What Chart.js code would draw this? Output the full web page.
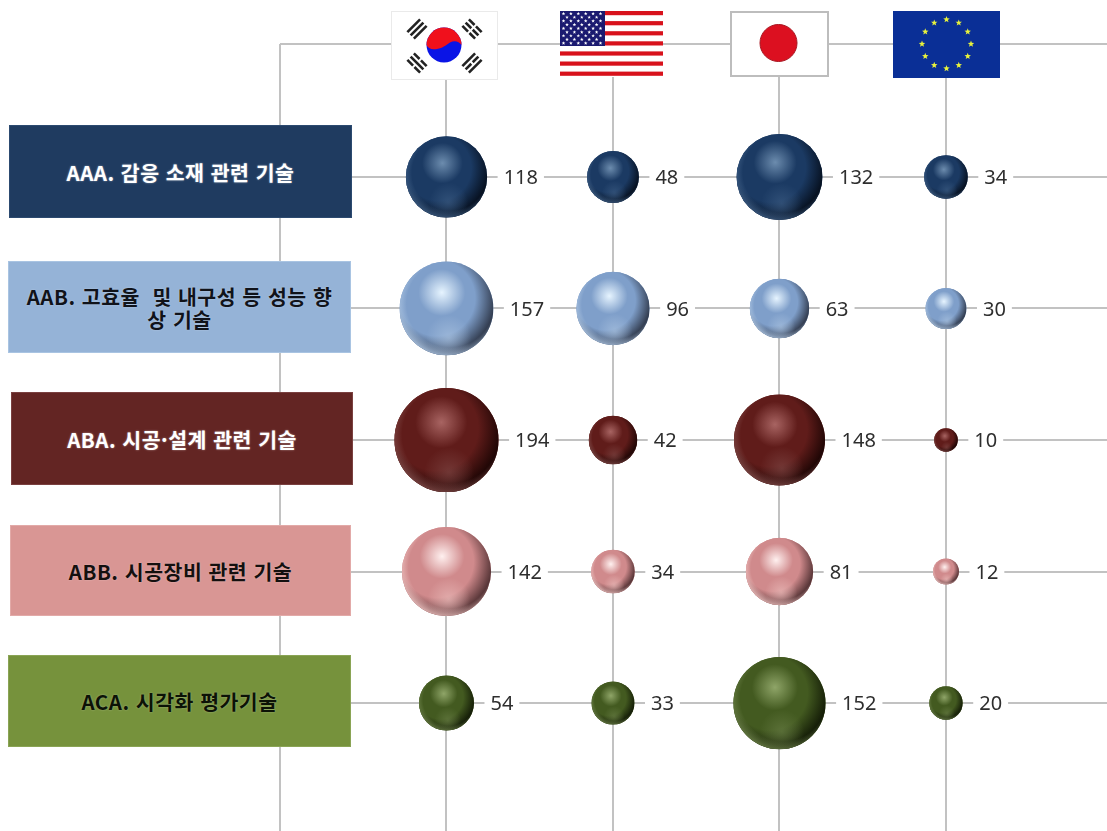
<!DOCTYPE html>
<html lang="ko">
<head>
<meta charset="utf-8">
<title>기술 분야별 국가 비교</title>
<script src="https://cdn.jsdelivr.net/npm/chart.js@4/dist/chart.umd.js"></script>
<style>
  html, body { margin: 0; padding: 0; background: #fff; overflow: hidden; }
  #stage { position: relative; width: 1107px; height: 831px; }
  #chart { position: absolute; left: 0; top: 0; }
  .box {
    position: absolute; display: flex; align-items: center; justify-content: center;
    box-sizing: border-box; text-align: center; white-space: pre;
    font: bold 20.5px/23px "Noto Sans CJK KR", sans-serif; letter-spacing: 0.5px;
    padding-top: 1px;
  }
  .flag { position: absolute; filter: blur(0.6px); }
</style>
</head>
<body>
<div id="stage">
  <canvas id="chart" width="1107" height="831"></canvas>
</div>
<script>
const categories = [
  'AAA. 감응 소재 관련 기술',
  'AAB. 고효율  및 내구성 등 성능 향\n상 기술',
  'ABA. 시공·설계 관련 기술',
  'ABB. 시공장비 관련 기술',
  'ACA. 시각화 평가기술'
];
const countries = ['KR', 'US', 'JP', 'EU'];

const aaaValues = [118, 48, 132, 34];
const aabValues = [157, 96, 63, 30];
const abaValues = [194, 42, 148, 10];
const abbValues = [142, 34, 81, 12];
const acaValues = [54, 33, 152, 20];
const seriesValues = [aaaValues, aabValues, abaValues, abbValues, acaValues];

// bubble area follows the value
const RADIUS_PER_ROOT = 3.74;
const LABEL_GAP = 16.5;

const GRID_COLOR = '#c2c2c2';

// left, top, width, height, fill, text, border
const boxStyles = [
  [9, 125, 343, 93, '#1f3b60', '#ffffff', '#2c4a70'],
  [8, 261, 343, 92, '#95b3d7', '#10131a', '#a9c4e2'],
  [11, 392, 342, 93, '#632523', '#ffffff', '#7a4040'],
  [10, 525, 341, 91, '#d99694', '#14100f', '#e2aaa8'],
  [8, 655, 343, 92, '#76923c', '#0c1206', '#8aa455']
];

// dark side, body, highlight, lower glow
const spherePalettes = [
  { rim: '#050d1a', body: '#1b3a63', hi: '#6c8cae', low: '#3f5f86' },
  { rim: '#2b3344', body: '#7f9fca', hi: '#e6f4ff', low: '#aec6e2' },
  { rim: '#190403', body: '#601c1a', hi: '#a86462', low: '#804a48' },
  { rim: '#4a2c2e', body: '#d08a8c', hi: '#fff0ef', low: '#eec2c0' },
  { rim: '#101705', body: '#435a20', hi: '#8fa568', low: '#6b8048' }
];

const sphereShading = {
  id: 'sphereShading',
  afterDatasetsDraw(chart) {
    const c = chart.ctx;
    chart.data.datasets.forEach((ds, i) => {
      const pal = spherePalettes[i];
      chart.getDatasetMeta(i).data.forEach(pt => {
        const r = pt.options.radius;
        const x = pt.x, y = pt.y;
        c.save();
        c.beginPath();
        c.arc(x, y, r, 0, Math.PI * 2);
        c.clip();

        // body falls off toward the lower right
        let g = c.createRadialGradient(x - r * 0.2, y - r * 0.22, r * 0.1, x - r * 0.2, y - r * 0.22, r * 1.28);
        g.addColorStop(0, pal.body);
        g.addColorStop(0.6, pal.body);
        g.addColorStop(1, pal.rim);
        c.fillStyle = g;
        c.fillRect(x - r, y - r, r * 2, r * 2);

        // soft spot at the top
        g = c.createRadialGradient(x - r * 0.1, y - r * 0.34, 0, x - r * 0.1, y - r * 0.34, r * 0.5);
        g.addColorStop(0, pal.hi);
        g.addColorStop(1, pal.hi + '00');
        c.fillStyle = g;
        c.fillRect(x - r, y - r, r * 2, r * 2);

        // reflected light underneath
        g = c.createRadialGradient(x + r * 0.05, y + r * 0.62, 0, x + r * 0.05, y + r * 0.62, r * 0.48);
        g.addColorStop(0, pal.low + '99');
        g.addColorStop(1, pal.low + '00');
        c.fillStyle = g;
        c.fillRect(x - r, y - r, r * 2, r * 2);

        // thin bright edge along the bottom left
        g = c.createRadialGradient(x + r * 0.08, y - r * 0.1, r * 0.93, x + r * 0.08, y - r * 0.1, r * 1.12);
        g.addColorStop(0, pal.low + '00');
        g.addColorStop(1, pal.low + 'cc');
        c.fillStyle = g;
        c.fillRect(x - r, y - r, r * 2, r * 2);
        c.restore();
      });
    });
  }
};

const valueLabels = {
  id: 'valueLabels',
  afterDraw(chart) {
    const c = chart.ctx;
    c.save();
    c.font = '20px "Noto Sans", sans-serif';
    c.textAlign = 'left';
    c.textBaseline = 'middle';
    chart.data.datasets.forEach((ds, i) => {
      chart.getDatasetMeta(i).data.forEach((pt, j) => {
        const text = String(seriesValues[i][j]);
        const w = c.measureText(text).width;
        const lx = pt.x + pt.options.radius + LABEL_GAP;
        c.fillStyle = '#ffffff';
        c.fillRect(lx - 6, pt.y - 12, w + 12, 26);
        c.fillStyle = '#2e2e2e';
        c.fillText(text, lx, pt.y + 1.5);
      });
    });
    c.restore();
  }
};

const datasets = seriesValues.map((values, row) => ({
  label: categories[row],
  backgroundColor: spherePalettes[row].body,
  borderWidth: 0,
  data: values.map((v, col) => ({ x: col, y: row, r: RADIUS_PER_ROOT * Math.sqrt(v) }))
}));

function fixedTicks(values) {
  return scale => { scale.ticks = values.map(value => ({ value })); };
}

const gridOptions = { color: GRID_COLOR, lineWidth: 2, drawTicks: false };

new Chart(document.getElementById('chart'), {
  type: 'bubble',
  data: { datasets },
  options: {
    responsive: false,
    animation: false,
    events: [],
    clip: false,
    layout: { autoPadding: false, padding: { left: 280, top: 44, right: 0, bottom: 0 } },
    plugins: { legend: { display: false }, tooltip: { enabled: false } },
    scales: {
      x: {
        type: 'linear', min: -1, max: 3.967,
        afterBuildTicks: fixedTicks([-1, 0, 1, 2, 3]),
        grid: gridOptions, border: { display: false }, ticks: { display: false }
      },
      y: {
        type: 'linear', reverse: true, min: -1.011, max: 4.973,
        afterBuildTicks: fixedTicks([-1.011, 0, 1, 2, 3, 4]),
        grid: gridOptions, border: { display: false }, ticks: { display: false }
      }
    }
  },
  plugins: [sphereShading, valueLabels]
});

// category boxes sit over the row lines
const stage = document.getElementById('stage');
categories.forEach((name, i) => {
  const [left, top, width, height, fill, color, border] = boxStyles[i];
  const el = document.createElement('div');
  el.className = 'box';
  el.style.cssText = `left:${left}px;top:${top}px;width:${width}px;height:${height}px;` +
    `background:${fill};color:${color};border:1px solid ${border};` +
    `text-shadow:0 0 2px ${color === '#ffffff' ? 'rgba(255,255,255,.5)' : 'rgba(255,255,255,.35)'};`;
  el.textContent = name;
  stage.appendChild(el);
});

function star(cx, cy, r) {
  let d = '';
  for (let k = 0; k < 10; k++) {
    const a = -Math.PI / 2 + k * Math.PI / 5;
    const rr = k % 2 ? r * 0.42 : r;
    d += (k ? 'L' : 'M') + (cx + rr * Math.cos(a)).toFixed(2) + ' ' + (cy + rr * Math.sin(a)).toFixed(2);
  }
  return `<path d="${d}Z"/>`;
}

function trigram(cx, cy, angle, broken) {
  let s = `<g transform="translate(${cx} ${cy}) rotate(${angle})" fill="#222">`;
  [-4.6, 0, 4.6].forEach((dy, k) => {
    if (broken[k]) {
      s += `<rect x="-9" y="${dy - 1.3}" width="8" height="2.6"/><rect x="1" y="${dy - 1.3}" width="8" height="2.6"/>`;
    } else {
      s += `<rect x="-9" y="${dy - 1.3}" width="18" height="2.6"/>`;
    }
  });
  return s + '</g>';
}

function koreaFlag() {
  return `<rect x="0.5" y="0.5" width="106" height="68" fill="#fff" stroke="#eaeaea"/>` +
    `<circle cx="53" cy="34" r="17.5" fill="#0a14e6"/>` +
    `<path d="M35.5 34A17.5 17.5 0 0 1 70.5 34C68 30 63 29 59 31.5S52 37 46 38 37 37 35.5 34Z" fill="#f0101c"/>` +
    trigram(26, 18, -45, [0, 0, 0]) + trigram(81, 18, 45, [1, 1, 1]) +
    trigram(26, 52, 45, [1, 0, 1]) + trigram(81, 52, -45, [0, 1, 0]);
}

function usaFlag() {
  let s = '<rect width="103" height="66" fill="#fff"/>';
  for (let k = 0; k < 7; k++) {
    s += `<rect y="${(k * 10.1).toFixed(1)}" width="103" height="4.2" fill="#d8121c"/>`;
  }
  s += '<rect width="45" height="35" fill="#1b1a70"/><g fill="#fff">';
  for (let row = 0; row < 9; row++) {
    const cols = row % 2 ? 5 : 6;
    for (let col = 0; col < cols; col++) {
      s += star((row % 2 ? 7 : 3.5) + col * 7.4, 2.6 + row * 3.7, 1.9);
    }
  }
  return s + '</g>';
}

function japanFlag() {
  return `<rect x="1" y="1" width="97" height="64" fill="#fff" stroke="#bdbdbd" stroke-width="2"/>` +
    `<circle cx="48.5" cy="32" r="18.5" fill="#dc1020" stroke="#a8141f" stroke-width="1"/>`;
}

function euFlag() {
  let s = '<rect width="107" height="67" fill="#0a2f96"/><g fill="#e8f23c">';
  for (let k = 0; k < 12; k++) {
    const a = k * Math.PI / 6;
    s += star(53.5 + 24.5 * Math.cos(a), 33 + 24.5 * Math.sin(a), 3.4);
  }
  return s + '</g>';
}

const flagPainters = { KR: koreaFlag, US: usaFlag, JP: japanFlag, EU: euFlag };
const flagBoxes = { KR: [391, 11, 107, 69], US: [560, 11, 103, 66], JP: [730, 11, 99, 66], EU: [893, 11, 107, 67] };

countries.forEach(code => {
  const [left, top, width, height] = flagBoxes[code];
  const holder = document.createElement('div');
  holder.innerHTML = `<svg class="flag" xmlns="http://www.w3.org/2000/svg" style="left:${left}px;top:${top}px" ` +
    `width="${width}" height="${height}" viewBox="0 0 ${width} ${height}">${flagPainters[code]()}</svg>`;
  stage.appendChild(holder.firstChild);
});
</script>
</body>
</html>
